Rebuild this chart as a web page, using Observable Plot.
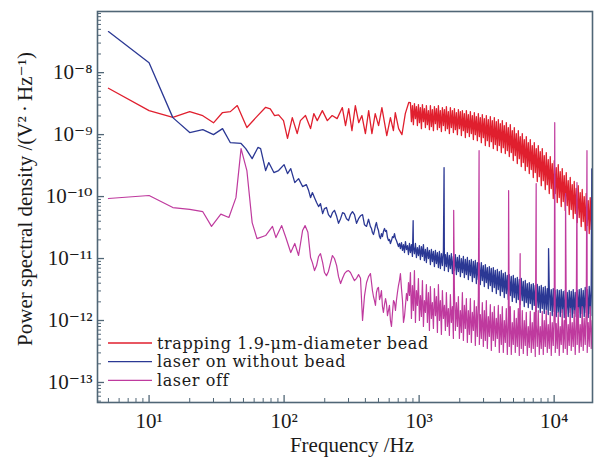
<!DOCTYPE html>
<html>
<head>
<meta charset="utf-8">
<script src="https://cdn.jsdelivr.net/npm/d3@7"></script>
<script src="https://cdn.jsdelivr.net/npm/@observablehq/plot@0.6"></script>
<style>
  html, body { margin: 0; padding: 0; background: #fff; }
  #chart { width: 596px; height: 458px; }
</style>
</head>
<body>
<div id="chart"></div>
<script>
// ---------- DATA (frequency in Hz, PSD in V^2/Hz) ----------
const seriesNames = ["trapping 1.9-\u03bcm-diameter bead", "laser on without bead", "laser off"];

// frequencies of the mid band (157-422 Hz)
const midF = [157,162,168,174,180,186,193,199,206,213,
  221,228,236,245,253,262,271,280,290,300,
  310,321,332,344,356,368,381,394,408,422];

// fine frequency grid of the crowded high-frequency part (436 Hz - 19.1 kHz)
const fineF = [
  436,444,451,459,467,475,483,491,500,509,517,526,535,544,554,564,573,583,593,603,
  613,624,635,646,657,668,679,691,703,715,727,740,753,766,779,792,806,820,834,848,
  862,877,892,907,923,939,955,971,988,1005,1022,1040,1058,1076,1094,1113,1132,1151,1172,1192,
  1212,1233,1254,1276,1298,1320,1343,1366,1389,1413,1437,1462,1487,1513,1539,1565,1592,1619,1647,1675,
  1704,1733,1764,1794,1825,1856,1888,1920,1953,1987,2021,2056,2091,2127,2163,2200,2238,2276,2315,2355,
  2396,2437,2479,2522,2564,2608,2653,2699,2745,2792,2840,2889,2938,2989,3041,3093,3146,3200,3255,3311,
  3368,3426,3484,3544,3605,3667,3730,3794,3859,3925,3993,4062,4131,4202,4274,4348,4423,4499,4576,4655,
  4734,4815,4898,4982,5068,5155,5244,5334,5426,5519,5613,5710,5808,5908,6009,6112,6218,6325,6433,6544,
  6656,6770,6887,7006,7125,7248,7372,7499,7628,7759,7892,8028,8166,8307,8449,8594,8742,8892,9044,9200,
  9357,9518,9681,9848,10016,10188,10364,10542,10723,10907,11094,11285,11479,11676,11877,12081,12288,12500,12714,12933,
  13155,13381,13611,13845,14082,14324,14569,14820,15074,15333,15596,15864,16137,16415,16697,16984,17276,17573,17874,18182,
  18493,18811,19134
];

// trapping 1.9-um-diameter bead (red): 5-838 Hz
const redLowF = [5,10,15,20,25,30,35,40,45,53,62,73,79,85,91,99,106,115,125,132,
  144,157,166,176,192,209,227,247,270,285,301,318,337,357,377,400,423,447,473,501,
  530,576,613,645,666,705,746,790,838];
const redLowP = [5.6e-9,2.44e-9,1.9e-9,2.35e-9,2.02e-9,1.55e-9,2.27e-9,2.35e-9,2.94e-9,1.3e-9,
  1.9e-9,2.76e-9,2.6e-9,2.02e-9,2.08e-9,1.68e-9,8.7e-10,1.88e-9,1.04e-9,1.68e-9,
  2.03e-9,1.25e-9,2.18e-9,1.68e-9,2.44e-9,1.68e-9,2.03e-9,1.81e-9,2.73e-9,1.4e-9,
  2.63e-9,1.16e-9,2.94e-9,1.56e-9,2.03e-9,1.04e-9,2.44e-9,1.04e-9,2.18e-9,1.4e-9,
  2.73e-9,9.6e-10,1.88e-9,1.16e-9,2.26e-9,1.25e-9,1.0e-9,2.18e-9,3.3e-9];
// red on fineF from 862 Hz on
const redHighP = [
  3.28e-9,1.62e-9,2.94e-9,1.45e-9,3.16e-9,1.81e-9,2.83e-9,1.4e-9,3.05e-9,1.56e-9,
  2.73e-9,1.25e-9,3.05e-9,1.62e-9,2.63e-9,1.3e-9,2.94e-9,1.45e-9,2.44e-9,1.2e-9,
  2.94e-9,1.35e-9,2.53e-9,1.16e-9,2.83e-9,1.5e-9,2.63e-9,1.2e-9,2.94e-9,1.3e-9,
  2.44e-9,1.12e-9,2.73e-9,1.4e-9,2.53e-9,1.16e-9,2.83e-9,1.25e-9,2.35e-9,1.04e-9,
  2.73e-9,1.3e-9,2.44e-9,1.08e-9,2.63e-9,1.2e-9,2.26e-9,1.0e-9,2.53e-9,1.25e-9,
  2.35e-9,9.64e-10,2.44e-9,1.16e-9,2.18e-9,8.95e-10,2.44e-9,1.08e-9,2.1e-9,9.29e-10,
  2.35e-9,1.04e-9,2.03e-9,8.31e-10,2.26e-9,1.0e-9,1.95e-9,8.0e-10,2.18e-9,9.29e-10,
  1.88e-9,7.43e-10,2.1e-9,8.95e-10,1.81e-9,6.65e-10,2.03e-9,8.0e-10,1.75e-9,6.41e-10,
  1.95e-9,7.71e-10,1.68e-9,5.95e-10,1.88e-9,6.9e-10,1.62e-9,5.52e-10,1.75e-9,6.65e-10,
  1.5e-9,5.13e-10,1.68e-9,6.17e-10,1.4e-9,4.94e-10,1.56e-9,5.52e-10,1.3e-9,4.42e-10,
  1.45e-9,5.13e-10,1.16e-9,3.81e-10,1.3e-9,4.59e-10,1.04e-9,3.41e-10,1.16e-9,4.1e-10,
  9.29e-10,3.05e-10,1.04e-9,3.54e-10,8.31e-10,2.63e-10,9.29e-10,3.05e-10,7.43e-10,2.35e-10,
  8.31e-10,2.73e-10,6.65e-10,2.03e-10,7.43e-10,2.44e-10,5.95e-10,1.75e-10,6.65e-10,2.1e-10,
  5.32e-10,1.5e-10,5.95e-10,1.81e-10,4.59e-10,1.3e-10,5.13e-10,1.56e-10,3.95e-10,1.12e-10,
  4.42e-10,1.35e-10,3.41e-10,9.29e-11,3.81e-10,1.12e-10,2.94e-10,8.0e-11,3.28e-10,9.64e-11,
  2.53e-10,6.9e-11,2.83e-10,8.31e-11,2.18e-10,5.95e-11,2.44e-10,7.16e-11,1.81e-10,5.13e-11,
  2.03e-10,6.17e-11,1.56e-10,4.42e-11,1.75e-10,5.32e-11,1.35e-10,3.81e-11,1.5e-10,4.59e-11,
  1.16e-10,3.28e-11,1.3e-10,3.95e-11,1.0e-10,2.83e-11,1.12e-10,3.41e-11,8.62e-11,2.53e-11,
  9.64e-11,2.94e-11,7.43e-11
];

// laser on without bead (blue)
const blueLowF = [5,10,15,20,25,30,35,40,48,52,58,64,67,73,77,84,91,100,106,112,120,128,137,146,152];
const blueLowP = [4.6e-8,1.45e-8,1.88e-9,1.08e-9,1.2e-9,1.0e-9,1.25e-9,7.4e-10,7.2e-10,5.95e-10,
  4.1e-10,6.2e-10,5.95e-10,2.63e-10,3.54e-10,2.44e-10,2.63e-10,3.28e-10,2.35e-10,2.83e-10,
  1.68e-10,1.95e-10,1.45e-10,1.56e-10,1.25e-10];
const blueMidP = [9.6e-11,1.16e-10,9.6e-11,8.0e-11,6.9e-11,7.7e-11,5.3e-11,6.4e-11,6.65e-11,5.1e-11,
  4.6e-11,5.5e-11,6.0e-11,4.8e-11,3.7e-11,4.4e-11,5.5e-11,5.3e-11,4.4e-11,4.1e-11,
  5.1e-11,5.7e-11,5.1e-11,3.7e-11,4.4e-11,4.9e-11,5.1e-11,3.5e-11,3.3e-11,4.3e-11];
const blueHighP = [
  3.28e-11,3.05e-11,2.63e-11,2.44e-11,2.83e-11,3.41e-11,3.81e-11,3.16e-11,2.83e-11,2.26e-11,
  2.1e-11,2.53e-11,2.26e-11,2.73e-11,3.05e-11,2.73e-11,2.83e-11,2.18e-11,1.95e-11,2.03e-11,
  1.75e-11,1.95e-11,2.26e-11,2.18e-11,2.53e-11,2.1e-11,1.95e-11,1.75e-11,1.56e-11,1.75e-11,
  1.45e-11,1.81e-11,1.35e-11,1.68e-11,1.25e-11,1.88e-11,1.4e-11,1.62e-11,1.16e-11,1.75e-11,
  1.25e-11,1.68e-11,1.08e-11,1.56e-11,1.2e-11,1.75e-11,1.04e-11,1.5e-11,1.12e-11,1.62e-11,
  9.64e-12,1.56e-11,1.08e-11,1.68e-11,9.29e-12,1.4e-11,8.62e-12,1.5e-11,1.0e-11,1.35e-11,
  8.0e-12,1.4e-11,8.95e-12,1.3e-11,7.43e-12,1.35e-11,8.31e-12,1.25e-11,7.16e-12,1.3e-11,
  6.9e-12,1.2e-11,7.71e-12,1.35e-11,6.41e-12,1.16e-11,7.43e-12,1.25e-11,6.17e-12,1.12e-11,
  6.9e-12,1.2e-11,5.73e-12,1.08e-11,6.41e-12,1.16e-11,5.52e-12,1.04e-11,6.17e-12,1.12e-11,
  5.13e-12,1.0e-11,5.95e-12,1.08e-11,4.94e-12,9.64e-12,5.52e-12,1.04e-11,4.59e-12,9.29e-12,
  5.32e-12,9.64e-12,4.26e-12,8.95e-12,4.94e-12,9.29e-12,3.95e-12,8.62e-12,4.59e-12,8.31e-12,
  3.81e-12,8.62e-12,4.42e-12,7.71e-12,3.54e-12,8.0e-12,4.1e-12,7.16e-12,3.28e-12,7.43e-12,
  3.67e-12,6.9e-12,2.94e-12,7.16e-12,3.41e-12,6.41e-12,2.73e-12,6.65e-12,3.16e-12,6.17e-12,
  2.53e-12,6.41e-12,2.94e-12,5.73e-12,2.35e-12,5.95e-12,2.73e-12,5.32e-12,2.18e-12,5.52e-12,
  2.53e-12,5.13e-12,2.03e-12,5.32e-12,2.35e-12,4.76e-12,1.95e-12,4.94e-12,2.18e-12,4.59e-12,
  1.81e-12,4.76e-12,2.1e-12,4.26e-12,1.68e-12,4.42e-12,1.95e-12,3.95e-12,1.62e-12,4.1e-12,
  1.88e-12,3.81e-12,1.5e-12,3.95e-12,1.75e-12,3.67e-12,1.4e-12,3.81e-12,1.62e-12,3.54e-12,
  1.35e-12,3.67e-12,1.56e-12,3.41e-12,1.3e-12,3.54e-12,1.5e-12,3.28e-12,1.25e-12,3.41e-12,
  1.45e-12,3.16e-12,1.2e-12,3.28e-12,1.4e-12,3.05e-12,1.16e-12,3.16e-12,1.35e-12,3.05e-12,
  1.16e-12,3.16e-12,1.35e-12,2.94e-12,1.12e-12,3.05e-12,1.3e-12,2.83e-12,1.16e-12,3.05e-12,
  1.35e-12,2.94e-12,1.12e-12,3.16e-12,1.3e-12,2.83e-12,1.16e-12,3.05e-12,1.35e-12,3.16e-12,
  1.12e-12,3.28e-12,1.3e-12,3.05e-12,1.16e-12,3.41e-12,1.35e-12,3.16e-12,1.12e-12,3.54e-12,
  1.3e-12,3.67e-12,1.2e-12
];
const blueSpikeF = [903, 1530, 9090, 19000];
const blueSpikeP = [4.1e-11, 2.94e-10, 1.45e-11, 2.8e-10];

// laser off (magenta)
const magLowF = [5,10,15,20,25,29,34,39,44,48,53,58,63,73,82,87,96,103,112,120,128,137,143,150];
const magLowP = [9.3e-11,1.04e-10,6.65e-11,6.2e-11,5.7e-11,3.3e-11,5.2e-11,4.6e-11,9.6e-11,5.95e-10,
  2.63e-10,3.8e-11,2.1e-11,2.35e-11,3.3e-11,2.18e-11,3.4e-11,2.18e-11,1.25e-11,1.75e-11,
  1.12e-11,2.83e-11,3.4e-11,2.66e-11];
const magMidP = [1.04e-11,8.6e-12,6.4e-12,7.7e-12,1.08e-11,1.2e-11,8.6e-12,5.95e-12,5.3e-12,6.2e-12,
  8.6e-12,1.12e-11,1.0e-11,7.7e-12,5.1e-12,3.95e-12,4.8e-12,5.7e-12,6.2e-12,6.4e-12,
  5.95e-12,5.1e-12,4.4e-12,4.8e-12,5.5e-12,4.8e-12,1.0e-12,2.5e-12,4.1e-12,5.1e-12];
const magHighP = [
  5.73e-12,4.1e-12,3.05e-12,2.44e-12,2.1e-12,1.75e-12,2.83e-12,3.28e-12,3.41e-12,2.18e-12,
  2.44e-12,3.05e-12,1.68e-12,1.35e-12,1.81e-12,2.26e-12,1.88e-12,1.2e-12,1.45e-12,1.75e-12,
  1.0e-12,8.0e-13,1.35e-12,2.1e-12,1.95e-12,1.45e-12,2.1e-12,2.83e-12,3.67e-12,4.42e-12,
  5.73e-12,3.28e-12,2.1e-12,9.29e-13,1.16e-12,1.75e-12,2.73e-12,2.1e-12,4.1e-12,2.53e-12,
  5.95e-12,1.08e-12,3.67e-12,1.45e-12,6.41e-12,9.29e-13,3.05e-12,1.75e-12,4.76e-12,1.0e-12,
  2.53e-12,1.16e-12,4.42e-12,8.0e-13,2.1e-12,1.35e-12,3.81e-12,9.29e-13,2.83e-12,6.9e-13,
  3.54e-12,1.08e-12,1.95e-12,7.43e-13,3.28e-12,1.2e-12,2.44e-12,6.41e-13,3.81e-12,1.0e-12,
  2.1e-12,5.95e-13,3.05e-12,1.08e-12,1.75e-12,6.9e-13,2.83e-12,8.0e-13,1.56e-12,5.73e-13,
  2.63e-12,9.29e-13,1.68e-12,5.13e-13,3.05e-12,6.9e-13,1.95e-12,8.0e-13,2.44e-12,5.13e-13,
  1.45e-12,6.41e-13,2.83e-12,4.76e-13,1.75e-12,7.43e-13,2.26e-12,4.42e-13,1.45e-12,5.95e-13,
  2.26e-12,4.42e-13,1.35e-12,6.9e-13,2.1e-12,3.95e-13,1.68e-12,5.52e-13,2.44e-12,4.1e-13,
  1.25e-12,5.13e-13,1.95e-12,3.81e-13,1.45e-12,4.76e-13,2.1e-12,3.54e-13,1.16e-12,5.52e-13,
  1.81e-12,3.28e-13,1.35e-12,4.76e-13,1.68e-12,3.81e-13,1.08e-12,5.13e-13,1.75e-12,3.05e-13,
  1.25e-12,4.1e-13,1.68e-12,3.05e-13,1.0e-12,4.42e-13,1.56e-12,2.83e-13,1.16e-12,3.81e-13,
  1.68e-12,2.83e-13,9.29e-13,4.1e-13,1.45e-12,3.05e-13,1.08e-12,3.81e-13,1.56e-12,2.73e-13,
  8.62e-13,3.54e-13,1.45e-12,2.94e-13,1.0e-12,3.95e-13,1.35e-12,2.73e-13,8.0e-13,3.67e-13,
  1.4e-12,3.05e-13,9.29e-13,3.54e-13,1.35e-12,2.63e-13,8.62e-13,3.81e-13,1.45e-12,2.83e-13,
  8.0e-13,3.54e-13,1.4e-12,2.83e-13,1.0e-12,3.81e-13,1.45e-12,3.05e-13,8.62e-13,3.54e-13,
  1.35e-12,2.73e-13,9.29e-13,3.95e-13,1.5e-12,3.05e-13,8.95e-13,3.54e-13,1.35e-12,2.73e-13,
  8.0e-13,4.1e-13,1.5e-12,3.05e-13,1.0e-12,3.54e-13,1.45e-12,2.83e-13,8.62e-13,3.95e-13,
  1.56e-12,3.28e-13,9.29e-13,3.81e-13,1.45e-12,2.83e-13,1.0e-12,4.1e-13,1.62e-12,3.05e-13,
  8.62e-13,3.81e-13,1.68e-12,3.28e-13,1.08e-12,4.1e-13,1.56e-12,3.05e-13,9.29e-13,3.81e-13,
  1.68e-12,3.54e-13,1.0e-12
];
const magSpikeF = [1803, 2780, 4600, 5600, 7360, 10100, 12150, 14750, 17500];
const magSpikeP = [6.0e-11, 5.5e-10, 1.25e-10, 1.2e-11, 1.62e-10, 1.56e-9, 1.12e-10, 1.68e-10, 5.5e-10];

// axis ticks
const xMajor = [10, 100, 1000, 10000];
const yMajor = [1e-13, 1e-12, 1e-11, 1e-10, 1e-9, 1e-8];
const xDomain = [4.15, 19230];
const yDomain = [4.75e-14, 9.7e-8];
const xTitle = "Frequency /Hz";
const yTitle = "Power spectral density /(V\u00b2\u2009\u00b7\u2009Hz\u207b\u00b9)";

// ---------- BUILD ----------
const RED = "#e01f2e", BLUE = "#2b3894", MAG = "#bf3a9e", FRAME = "#506676";
const colors = [RED, BLUE, MAG];
const rows = (F, P) => F.map((f, i) => ({f, v: P[i]}));
const byF = (a, b) => a.f - b.f;
const redData = rows(redLowF, redLowP).concat(rows(fineF.slice(40), redHighP));
const blueData = [...rows(blueLowF, blueLowP), ...rows(midF, blueMidP), ...rows(fineF, blueHighP),
  ...rows(blueSpikeF, blueSpikeP)].sort(byF);
const magData = [...rows(magLowF, magLowP), ...rows(midF, magMidP), ...rows(fineF, magHighP),
  ...rows(magSpikeF, magSpikeP)].sort(byF);

const W = 596, H = 458, mL = 97, mR = 4, mT = 11, mB = 56;
const FW = W - mL - mR, FH = H - mT - mB;
const isPow10 = t => Math.abs(Math.log10(t) - Math.round(Math.log10(t))) < 1e-9;
const xMinor = d3.scaleLog().domain(xDomain).ticks().filter(t => !isPow10(t));
const yMinor = d3.scaleLog().domain(yDomain).ticks().filter(t => !isPow10(t));

const sup = {"-": "\u207b", "0": "\u2070", "1": "\u00b9", "2": "\u00b2", "3": "\u00b3",
  "4": "\u2074", "5": "\u2075", "6": "\u2076", "7": "\u2077", "8": "\u2078", "9": "\u2079"};
const fmt = d => "10" + String(Math.round(Math.log10(d))).replace(/./g, c => sup[c]);

const FONT = "'Liberation Serif', 'DejaVu Serif', serif";
const LFONT = "'DejaVu Serif', 'Liberation Serif', serif";
const lineOpts = (stroke, w) => ({x: "f", y: "v", stroke, strokeWidth: w, clip: true, strokeLinejoin: "round"});

const chart = Plot.plot({
  width: W, height: H,
  marginLeft: mL, marginRight: mR, marginTop: mT, marginBottom: mB,
  x: {type: "log", domain: xDomain},
  y: {type: "log", domain: yDomain},
  style: {fontFamily: FONT, background: "#fff", color: "#1a1a1a", overflow: "visible"},
  marks: [
    Plot.line(redData, lineOpts(RED, 1.3)),
    Plot.line(blueData, lineOpts(BLUE, 1.3)),
    Plot.line(magData, lineOpts(MAG, 1.2)),
    Plot.tickX(xMinor, {x: d => d, stroke: FRAME, strokeWidth: 1, insetTop: FH - 4}),
    Plot.tickX(xMajor, {x: d => d, stroke: FRAME, strokeWidth: 1.3, insetTop: FH - 7}),
    Plot.tickY(yMinor, {y: d => d, stroke: FRAME, strokeWidth: 1, insetRight: FW - 4}),
    Plot.tickY(yMajor, {y: d => d, stroke: FRAME, strokeWidth: 1.3, insetRight: FW - 7}),
    Plot.frame({stroke: FRAME, strokeWidth: 1.6}),
    Plot.axisX({ticks: xMajor, tickFormat: fmt, tickSize: 0, tickPadding: 11, fontSize: 21, label: null}),
    Plot.axisY({ticks: yMajor, tickFormat: fmt, tickSize: 0, tickPadding: 5, fontSize: 21, label: null})
  ]
});
document.getElementById("chart").appendChild(chart);

// titles and in-frame legend
const svg = d3.select(chart);
svg.append("text")
  .attr("transform", "translate(25,199) rotate(-90)")
  .attr("text-anchor", "middle").attr("dominant-baseline", "central")
  .attr("font-family", FONT).attr("font-size", 21).attr("fill", "#1a1a1a")
  .text(yTitle);
svg.append("text")
  .attr("x", 352).attr("y", 452)
  .attr("text-anchor", "middle")
  .attr("font-family", FONT).attr("font-size", 21).attr("fill", "#1a1a1a")
  .text(xTitle);

const legend = svg.append("g").attr("text-anchor", "start");
seriesNames.forEach((name, i) => {
  const yy = 343 + i * 18.7;
  legend.append("line").attr("x1", 108).attr("x2", 152).attr("y1", yy).attr("y2", yy)
    .attr("stroke", colors[i]).attr("stroke-width", 1.3);
  legend.append("text").attr("x", 157).attr("y", yy).attr("dy", "0.36em")
    .attr("text-anchor", "start").attr("letter-spacing", "0.6px")
    .attr("font-family", LFONT).attr("font-size", 16).attr("fill", "#1a1a1a")
    .text(name);
});
</script>
</body>
</html>
